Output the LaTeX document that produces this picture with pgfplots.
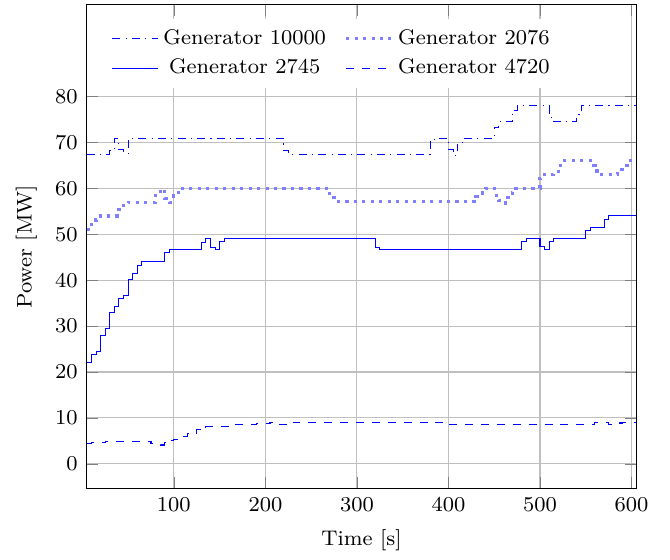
\documentclass[border=0pt]{standalone}
\usepackage{pgfplots}
\pgfplotsset{compat=1.18}
\begin{document}
\begin{tikzpicture}[font=\footnotesize]
\begin{axis}[
    scale only axis,
    width=207.5pt, height=182.8pt,
    xmin=5, xmax=605,
    ymin=-5.4, ymax=100,
    xtick={100,200,...,600},
    ytick={0,10,...,80},
    grid=major,
    xlabel={Time [s]},
    ylabel={Power [MW]},
    tick label style={font=\footnotesize},
    label style={font=\footnotesize},
    legend columns=2,
    legend style={at={(0.03,0.972)}, anchor=north west, draw=none, fill=white,
        font=\footnotesize,
        /tikz/every even column/.append style={column sep=5pt}},
    no marks,
    const plot,
]
\addplot[blue, dashdotted] coordinates {
 (5,67.4) (30,68.3) (35,70.9) (40,68.4) (45,67.6) (50,70.9) (220,68.3) (225,67.4)
 (380,70.2) (385,70.9) (400,68.4) (405,67.2) (410,70.0) (415,70.9) (450,73.3) (455,74.5)
 (470,77.0) (475,78.0) (510,75.5) (515,74.5) (540,76.0) (545,78.0) (605,78.0)
};
\addlegendentry{Generator 10000}
\addplot[blue!50, line width=1.2pt, dotted] coordinates {
 (5,51.0) (10,52.2) (15,53.1) (20,54.0) (40,55.4) (45,56.2) (50,57.0) (80,58.5) (85,59.8)
 (90,57.8) (95,57.0) (100,58.5) (105,60.0) (270,58.9) (275,57.1) (430,58.2) (435,59.0)
 (440,60.0) (450,58.5) (455,57.4) (460,56.8) (465,59.0) (470,60.0) (500,62.2) (505,63.0)
 (515,63.7) (520,65.0) (525,66.0) (555,64.9) (560,63.8) (565,63.0) (585,64.2) (590,65.0)
 (595,66.0) (605,66.0)
};
\addlegendentry{Generator 2076}
\addplot[blue] coordinates {
 (5,22.1) (10,23.8) (15,24.5) (20,28.0) (25,29.4) (30,33.0) (35,34.3) (40,36.1) (45,36.7)
 (50,40.2) (55,41.5) (60,43.3) (65,44.1) (90,46.0) (95,46.6) (130,48.3) (135,49.0)
 (140,47.2) (145,46.6) (150,48.4) (155,49.0) (320,47.2) (325,46.7) (480,48.4) (485,49.0)
 (500,47.3) (505,46.6) (510,48.4) (515,49.0) (550,50.8) (555,51.5) (570,53.3) (575,54.0)
 (605,54.0)
};
\addlegendentry{Generator 2745}
\addplot[blue, dashed] coordinates {
 (5,4.35) (10,4.6) (25,4.9) (75,4.35) (85,4.1) (90,4.6) (95,5.1) (100,5.4) (105,6.0)
 (115,6.6) (125,7.4) (135,8.1) (165,8.5) (190,8.7) (205,9.0) (215,8.6) (225,9.05)
 (395,8.6) (560,9.0) (575,8.6) (585,8.9) (590,9.0) (605,9.0)
};
\addlegendentry{Generator 4720}
\end{axis}
\path (current axis.south east) ++(12.8pt,0) (current axis.north east) ++(0,1.8pt);
\path (current axis.outer west) ++(-2.6pt,0);
\end{tikzpicture}
\end{document}
